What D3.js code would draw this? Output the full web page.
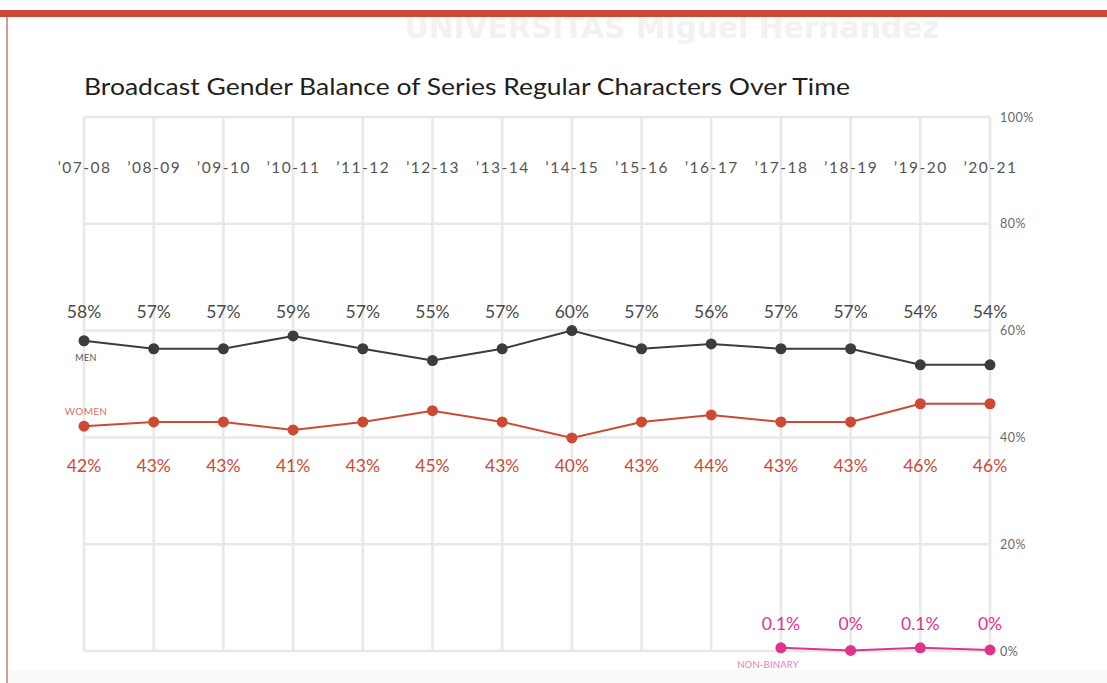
<!DOCTYPE html>
<html><head><meta charset="utf-8">
<script src="https://cdn.jsdelivr.net/npm/d3@7"></script>
<style>
html,body{margin:0;padding:0;background:#fff;}
svg{display:block;font-family:Lato,"Noto Sans",sans-serif;}
</style></head>
<body><svg id="c" width="1107" height="683"></svg>
<script>
const seasons = ["\u201907-08","\u201908-09","\u201909-10","\u201910-11","\u201911-12","\u201912-13","\u201913-14","\u201914-15","\u201915-16","\u201916-17","\u201917-18","\u201918-19","\u201919-20","\u201920-21"];
const menValues = [58.1, 56.6, 56.6, 59.0, 56.6, 54.4, 56.6, 60.0, 56.6, 57.5, 56.6, 56.6, 53.6, 53.6];
const menLabels = ["58%","57%","57%","59%","57%","55%","57%","60%","57%","56%","57%","57%","54%","54%"];
const womenValues = [42.1, 42.9, 42.9, 41.4, 42.9, 45.0, 42.9, 39.9, 42.9, 44.2, 42.9, 42.9, 46.3, 46.3];
const womenLabels = ["42%","43%","43%","41%","43%","45%","43%","40%","43%","44%","43%","43%","46%","46%"];
const nbSeasons = ["\u201917-18","\u201918-19","\u201919-20","\u201920-21"];
const nbValues = [0.6, 0.1, 0.6, 0.2];
const nbLabels = ["0.1%","0%","0.1%","0%"];
const yTicks = [0, 20, 40, 60, 80, 100];
const title = "Broadcast Gender Balance of Series Regular Characters Over Time";

const svg = d3.select("#c");
const W = 1107, H = 683;

// page frame
svg.append("rect").attr("x",0).attr("y",0).attr("width",W).attr("height",H).attr("fill","#fff");
svg.append("text").attr("x",672).attr("y",38).attr("text-anchor","middle")
  .attr("font-size",30).attr("font-weight",700).attr("fill","#f3f2f0")
  .attr("font-family","'Liberation Sans Narrow','DejaVu Sans Condensed',sans-serif")
  .attr("textLength",535).attr("lengthAdjust","spacingAndGlyphs")
  .text("UNIVERSITAS Miguel Hernández");
svg.append("rect").attr("x",0).attr("y",10).attr("width",W).attr("height",7).attr("fill","#cc4b38");
svg.append("rect").attr("x",6).attr("y",17).attr("width",2).attr("height",H-17).attr("fill","#d99a92");
svg.append("rect").attr("x",8).attr("y",670).attr("width",W-8).attr("height",13).attr("fill","#f9fbf8");

const x = d3.scalePoint().domain(seasons).range([84, 990]);
const y = d3.scaleLinear().domain([0, 100]).range([651, 117]);

// grid
const g = svg.append("g");
g.selectAll("line.h").data(yTicks).join("line")
  .attr("x1",84).attr("x2",990).attr("y1",d=>y(d)).attr("y2",d=>y(d))
  .attr("stroke","#e8e8e8").attr("stroke-width",2.5);
g.selectAll("line.v").data(seasons).join("line")
  .attr("x1",d=>x(d)).attr("x2",d=>x(d)).attr("y1",y(100)).attr("y2",y(0))
  .attr("stroke","#e8e8e8").attr("stroke-width",2.5);

// right axis labels
const yAxis = d3.axisRight(y).tickValues(yTicks).tickFormat(d=>d+"%").tickSize(0).tickPadding(0);
const ya = svg.append("g").attr("transform","translate(1000,0)").call(yAxis);
ya.select(".domain").remove();
ya.selectAll("text").attr("font-size",12.5).attr("fill","#6a6a6a").attr("font-family","Lato,sans-serif").attr("letter-spacing",0.5);

// season headers
const xAxis = d3.axisTop(x).tickSize(0).tickPadding(0);
const xa = svg.append("g").attr("transform","translate(0,173)").call(xAxis);
xa.select(".domain").remove();
xa.selectAll("text").attr("font-size",15.5).attr("fill","#555").attr("font-family","Lato,sans-serif").attr("letter-spacing",1.5);

// title
svg.append("text").attr("x",84).attr("y",95).attr("font-size",23).attr("fill","#1f1f1f")
  .attr("textLength",766).attr("lengthAdjust","spacingAndGlyphs").text(title);

function series(seas, vals, labels, color, labColor, labDy) {
  const data = seas.map((s,i)=>({s, v: vals[i], l: labels[i]}));
  const line = d3.line().x(d=>x(d.s)).y(d=>y(d.v));
  svg.append("path").datum(data).attr("d",line).attr("fill","none").attr("stroke",color).attr("stroke-width",2);
  svg.append("g").selectAll("circle").data(data).join("circle")
    .attr("cx",d=>x(d.s)).attr("cy",d=>y(d.v)).attr("r",5.5).attr("fill",color);
  svg.append("g").selectAll("text").data(data).join("text")
    .attr("x",d=>x(d.s)).attr("y",labDy).attr("text-anchor","middle")
    .attr("font-size",17.5).attr("fill",labColor).text(d=>d.l);
}
series(seasons, menValues, menLabels, "#3c3c3c", "#4a4a4a", 318);
series(seasons, womenValues, womenLabels, "#cc4a34", "#cc4a34", 472);
series(nbSeasons, nbValues, nbLabels, "#e0338c", "#e0338c", 630);

// series names
svg.append("text").attr("x",86).attr("y",361).attr("text-anchor","middle").attr("font-size",9).attr("fill","#555").attr("letter-spacing",0.3).text("MEN");
svg.append("text").attr("x",86).attr("y",415).attr("text-anchor","middle").attr("font-size",10).attr("fill","#d9735f").attr("letter-spacing",0.3).text("WOMEN");
svg.append("text").attr("x",768).attr("y",668).attr("text-anchor","middle").attr("font-size",9.5).attr("fill","#e680b5").attr("letter-spacing",0.2).text("NON-BINARY");
</script></body></html>
